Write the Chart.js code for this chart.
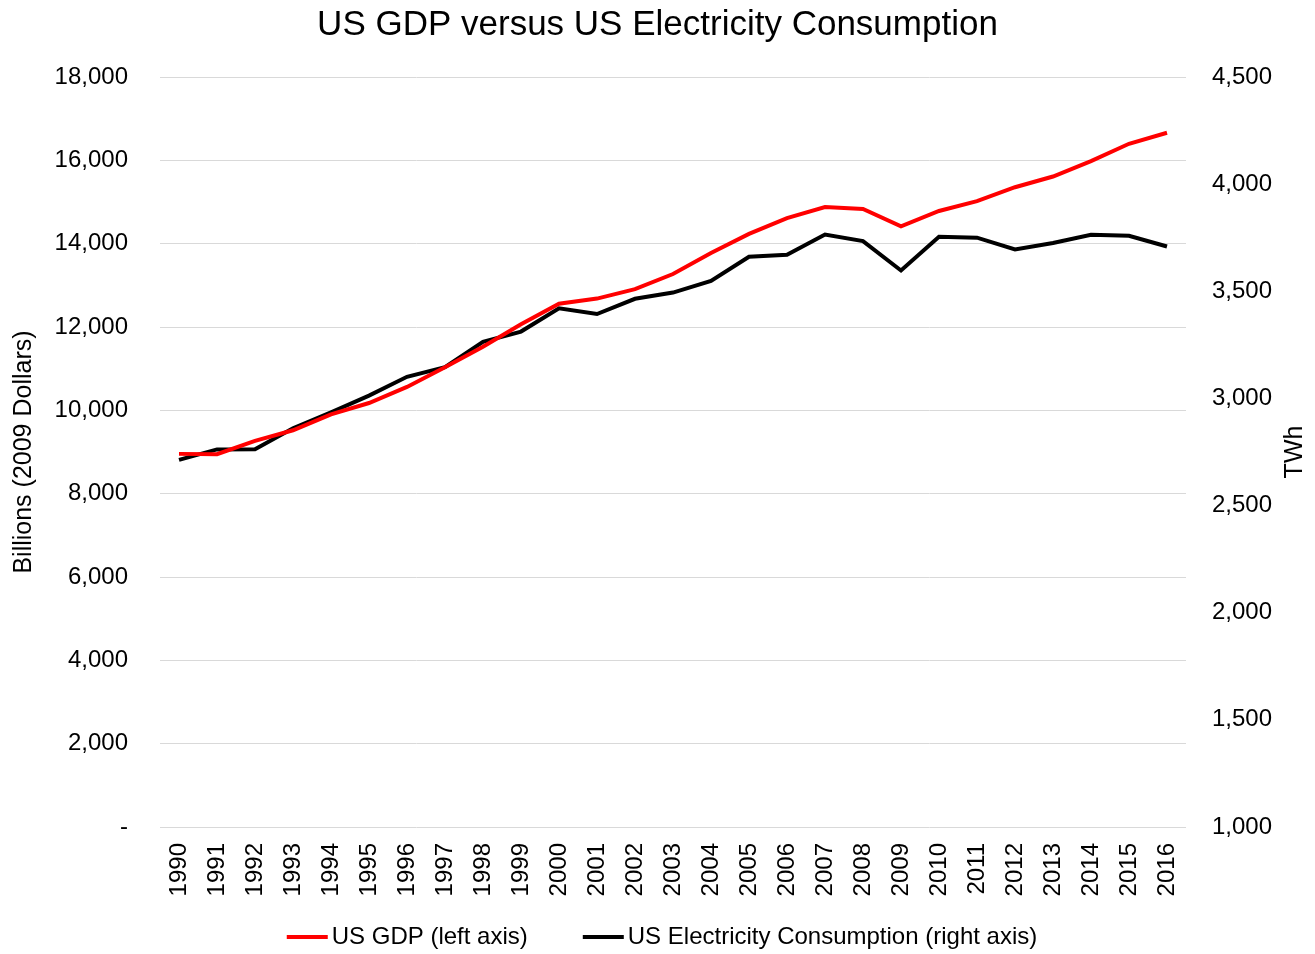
<!DOCTYPE html>
<html>
<head>
<meta charset="utf-8">
<script src="https://cdn.jsdelivr.net/npm/chart.js@4"></script>
<style>
  html, body { margin: 0; padding: 0; background: #fff; }
  #wrap { width: 1315px; height: 954px; }
</style>
</head>
<body>
<div id="wrap"><canvas id="gdpChart"></canvas></div>
<script>
// values
const years = ["1990","1991","1992","1993","1994","1995","1996","1997","1998","1999",
  "2000","2001","2002","2003","2004","2005","2006","2007","2008","2009",
  "2010","2011","2012","2013","2014","2015","2016"];
const gdp = [8955, 8948, 9267, 9521, 9905, 10175, 10561, 11035, 11526, 12066,
  12560, 12682, 12909, 13271, 13774, 14235, 14615, 14877, 14834, 14418,
  14784, 15021, 15355, 15612, 15982, 16397, 16662];
const electricity = [2713, 2762, 2763, 2861, 2935, 3013, 3101, 3146, 3264, 3312,
  3421, 3394, 3465, 3494, 3548, 3661, 3670, 3765, 3734, 3597,
  3754, 3750, 3695, 3725, 3764, 3759, 3709];
const leftTicks = { min: 0, max: 18000, step: 2000 };
const rightTicks = { min: 1000, max: 4500, step: 500 };

const FONT = "'Liberation Sans', Arial, sans-serif";
Chart.defaults.font.family = FONT;
Chart.defaults.color = "#000";

const fmt = v => v.toLocaleString("en-US");

// right axis title (reads bottom to top) and the bottom legend
const extras = {
  id: "extras",
  afterDraw(chart) {
    const ctx = chart.ctx;
    const area = chart.chartArea;
    ctx.save();
    ctx.translate(1295, (area.top + area.bottom) / 2);
    ctx.rotate(-Math.PI / 2);
    ctx.font = "25px " + FONT;
    ctx.fillStyle = "#000";
    ctx.textAlign = "center";
    ctx.textBaseline = "middle";
    ctx.fillText("TWh", 0, 0);
    ctx.restore();

    // legend
    const sample = 41, gap = 4, between = 55, y = 937;
    ctx.save();
    ctx.font = "24px " + FONT;
    const items = chart.data.datasets.map(d => ({ text: d.label, color: d.borderColor, w: ctx.measureText(d.label).width }));
    let total = 0;
    items.forEach((it, i) => { total += sample + gap + it.w + (i ? between : 0); });
    let x = 662 - total / 2;
    ctx.textBaseline = "middle";
    ctx.textAlign = "left";
    items.forEach(it => {
      ctx.strokeStyle = it.color;
      ctx.lineWidth = 4;
      ctx.beginPath();
      ctx.moveTo(x, y);
      ctx.lineTo(x + sample, y);
      ctx.stroke();
      ctx.fillStyle = "#000";
      ctx.fillText(it.text, x + sample + gap, y);
      x += sample + gap + it.w + between;
    });
    ctx.restore();
  }
};

new Chart(document.getElementById("gdpChart"), {
  type: "line",
  data: {
    labels: years,
    datasets: [
      {
        label: "US GDP (left axis)",
        data: gdp,
        borderColor: "#ff0000",
        backgroundColor: "#ff0000",
        borderWidth: 4,
        pointRadius: 0,
        tension: 0,
        yAxisID: "y"
      },
      {
        label: "US Electricity Consumption (right axis)",
        data: electricity,
        borderColor: "#000000",
        backgroundColor: "#000000",
        borderWidth: 4,
        pointRadius: 0,
        tension: 0,
        yAxisID: "y1"
      }
    ]
  },
  options: {
    responsive: true,
    maintainAspectRatio: false,
    animation: false,
    layout: { padding: 0 },
    plugins: {
      title: {
        display: true,
        text: "US GDP versus US Electricity Consumption",
        font: { size: 35, weight: "normal" },
        padding: { top: 4, bottom: 31 }
      },
      legend: { display: false },
      tooltip: { enabled: false }
    },
    scales: {
      x: {
        offset: true,
        grid: { display: false, drawTicks: false },
        border: { display: false },
        ticks: { minRotation: 90, maxRotation: 90, padding: 16, font: { size: 24 }, autoSkip: false },
        afterFit(s) { s.height = 127; }
      },
      y: {
        position: "left",
        min: leftTicks.min,
        max: leftTicks.max,
        grid: { color: "#d9d9d9", lineWidth: 1, drawTicks: false },
        border: { display: false },
        ticks: {
          stepSize: leftTicks.step,
          padding: 32,
          font: { size: 24 },
          callback: v => v === 0 ? "-" : fmt(v)
        },
        title: {
          display: true,
          text: "Billions (2009 Dollars)",
          font: { size: 25 },
          padding: { top: 9, bottom: 0 }
        },
        afterFit(s) { s.width = 160; }
      },
      y1: {
        position: "right",
        min: rightTicks.min,
        max: rightTicks.max,
        grid: { drawOnChartArea: false, drawTicks: false },
        border: { display: false },
        ticks: { stepSize: rightTicks.step, padding: 26, font: { size: 24 }, callback: v => fmt(v) },
        afterFit(s) { s.width = 129; }
      }
    }
  },
  plugins: [extras]
});
</script>
</body>
</html>
